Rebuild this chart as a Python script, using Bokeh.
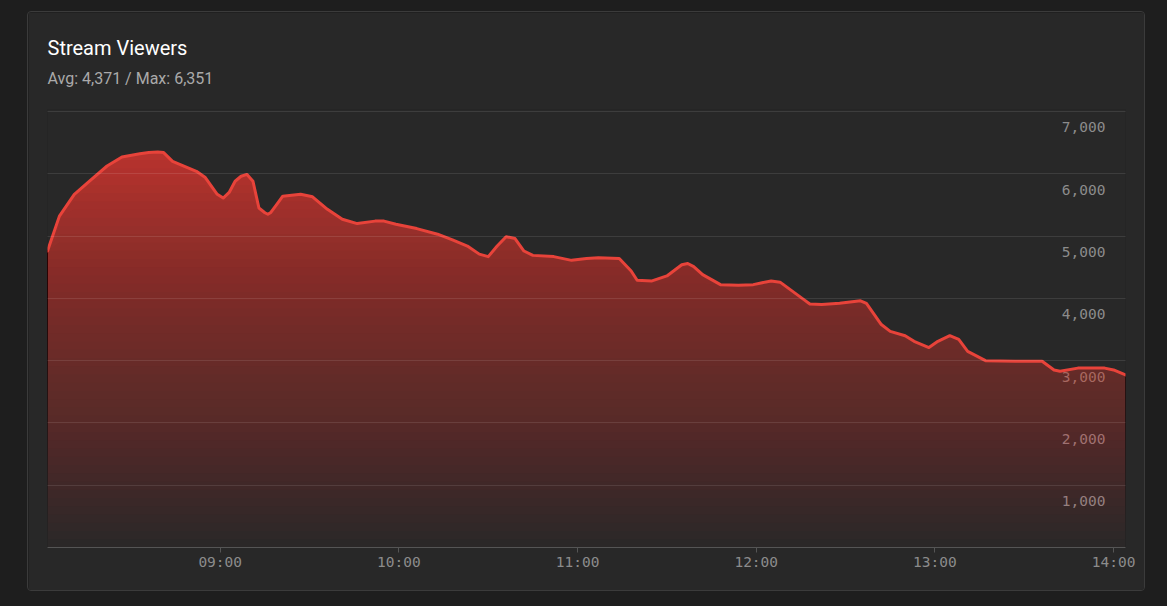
import numpy as np
from bokeh.plotting import figure
from bokeh.models import Range1d, Title, FixedTicker, ColumnDataSource
from bokeh.core.properties import value
from bokeh.embed import file_html
from bokeh.resources import INLINE

# ---- data ----
times = ["08:02", "08:06", "08:11", "08:16", "08:22", "08:27", "08:33", "08:36", "08:39", "08:41", "08:44",
         "08:48", "08:52", "08:55", "08:59", "09:01", "09:03", "09:05", "09:07", "09:09", "09:11", "09:13",
         "09:15", "09:16", "09:17", "09:19", "09:21", "09:27", "09:31", "09:36", "09:41", "09:46", "09:52", "09:55",
         "09:59", "10:06", "10:13", "10:18", "10:23", "10:27", "10:30", "10:33", "10:36", "10:39", "10:42",
         "10:45", "10:52", "10:58", "11:03", "11:07", "11:14", "11:18", "11:20", "11:25", "11:30",
         "11:35", "11:37", "11:39", "11:42", "11:48", "11:54", "11:59", "12:05", "12:08", "12:12",
         "12:16", "12:18", "12:22", "12:28", "12:35", "12:37", "12:42", "12:45", "12:50", "12:53",
         "12:58", "13:01", "13:05", "13:08", "13:11", "13:17", "13:27", "13:36", "13:40", "13:42",
         "13:48", "13:57", "14:00", "14:04"]
viewers = [4760, 5320, 5670, 5880, 6125, 6270, 6320, 6340, 6351, 6340, 6200,
           6120, 6040, 5940, 5670, 5610, 5700, 5880, 5960, 5990, 5880, 5450,
           5375, 5350, 5380, 5510, 5640, 5670, 5630, 5430, 5270, 5200, 5240, 5240,
           5190, 5120, 5030, 4940, 4840, 4710, 4670, 4840, 4990, 4960, 4760,
           4690, 4670, 4610, 4640, 4650, 4640, 4440, 4290, 4280, 4360,
           4540, 4560, 4510, 4380, 4220, 4210, 4220, 4280, 4260, 4120,
           3980, 3910, 3900, 3920, 3960, 3920, 3580, 3470, 3400, 3310,
           3210, 3310, 3400, 3340, 3150, 3000, 2990, 2990, 2850, 2830,
           2880, 2880, 2850, 2770]
x_tick_labels = ["09:00", "10:00", "11:00", "12:00", "13:00", "14:00"]
y_ticks = [1000, 2000, 3000, 4000, 5000, 6000, 7000]
title_text = "Stream Viewers"
subtitle_text = "Avg: 4,371 / Max: 6,351"


def to_min(s):
    h, m = s.split(":")
    return int(h) * 60 + int(m)


x = np.array([to_min(t) for t in times], dtype=float)
v = np.array(viewers, dtype=float)
xt = [to_min(t) for t in x_tick_labels]

CARD = "#282828"
PAGE = "#1e1e1e"
RED = "#e8433a"
MONO = "DejaVu Sans Mono"

p = figure(width=1118, height=580, title=None,
           x_range=Range1d(x[0], x[-1]), y_range=Range1d(0, 7032),
           output_backend="svg", toolbar_location=None, y_axis_location=None,
           min_border_left=19, min_border_right=21, min_border_top=97, min_border_bottom=45,
           background_fill_color=CARD, border_fill_color=CARD, outline_line_color=None,
           margin=(11, 0, 0, 27),
           styles={"border": "1px solid #3b3b3b", "border-radius": "4px", "overflow": "hidden"})

# titles: subtitle first (closest to the frame), then the main title
p.add_layout(Title(text=subtitle_text, align="left", text_font="Roboto", text_font_size="16px",
                   text_color="#aaaaaa", text_font_style="normal", standoff=44), "above")
p.add_layout(Title(text=title_text, align="left", text_font="Roboto", text_font_size="20px",
                   text_color="#ffffff", text_font_style="normal", standoff=-30), "above")

# grid
p.xgrid.visible = False
p.ygrid.ticker = FixedTicker(ticks=y_ticks)
p.ygrid.grid_line_color = "white"
p.ygrid.grid_line_alpha = 0.1
p.ygrid.level = "overlay"

# x axis
p.xaxis.ticker = FixedTicker(ticks=xt)
p.xaxis.major_label_overrides = {t: lab for t, lab in zip(xt, x_tick_labels)}
p.xaxis.axis_line_color = "#555555"
p.xaxis.major_tick_line_color = "#555555"
p.xaxis.major_tick_out = 5
p.xaxis.major_tick_in = 0
p.xaxis.minor_tick_line_color = None
p.xaxis.major_label_standoff = 1
p.xaxis.major_label_text_font = MONO
p.xaxis.major_label_text_font_size = "14.5px"
p.xaxis.major_label_text_color = "#8c8c8c"

# y labels inside plot (drawn beneath the fill)
ysrc = ColumnDataSource(dict(x=[x[-1]] * len(y_ticks), y=y_ticks,
                             t=[f"{t:,}" for t in y_ticks]))
p.text(x="x", y="y", text="t", source=ysrc, x_offset=-20, y_offset=16,
       text_align="right", text_baseline="middle", text_font=value(MONO),
       text_font_size="14.5px", text_color="#8c8c8c")

# gradient fill: cumulative translucent layers
N = 48
vmax = v.max()
prev_A = 0.0
for k in range(N):
    A = 0.8 * (k + 1) / N
    a = 1 - (1 - A) / (1 - prev_A)
    prev_A = A
    lo = vmax * k / N
    y1 = np.minimum(v, lo)
    p.varea(x=x, y1=y1, y2=v, fill_color=RED, fill_alpha=a)

p.line(x, v, line_color=RED, line_width=3, line_join="round", line_cap="round")

html = file_html(p, INLINE)
html = html.replace("</head>", "<style>html,body{background:%s;margin:0;}</style></head>" % PAGE, 1)
open("out.html", "w").write(html)
